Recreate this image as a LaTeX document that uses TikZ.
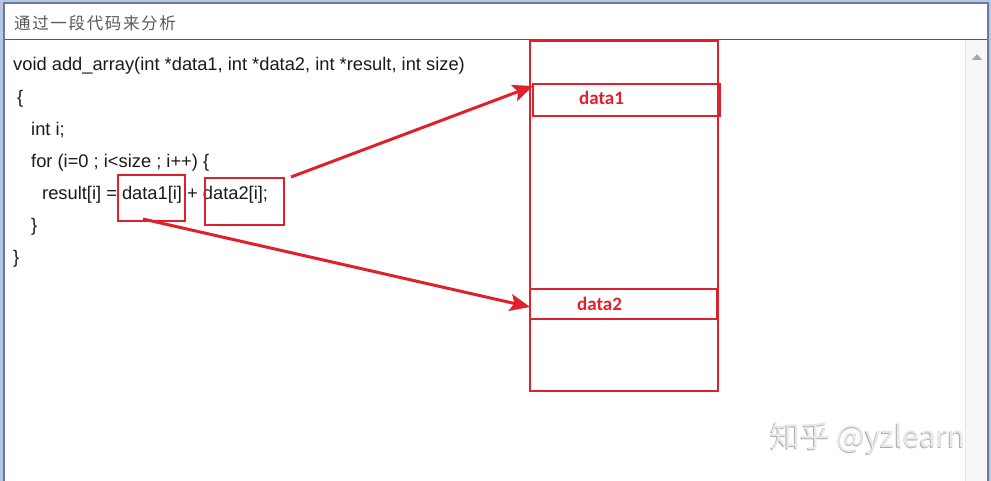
\documentclass[tikz,border=0pt]{standalone}
\usepackage{fontspec}
\setmainfont{Liberation Sans}
\newfontfamily\cjk{Noto Sans CJK SC}
\newfontfamily\cjktitle[LetterSpace=10]{Noto Sans CJK SC}
\newfontfamily\lblfont{Carlito}
\usetikzlibrary{arrows.meta}
\definecolor{frameblue}{HTML}{B6C6E6}
\definecolor{framedark}{HTML}{6B7B9E}
\definecolor{myred}{HTML}{E0202C}
\definecolor{titlegrey}{HTML}{5A5A5A}
\definecolor{codeblack}{HTML}{1A1A1A}
\tikzset{
  redbox/.style={draw=myred, line width=2.5pt, inner sep=0pt},
  codeline/.style={anchor=base west, inner sep=0pt, text=codeblack, font=\fontsize{18.3}{18.3}\selectfont},
  cellname/.style={inner sep=0pt, text=myred, font=\lblfont\bfseries\fontsize{19}{19}\selectfont},
  redarrow/.style={draw=myred, line width=3pt, -{Stealth[length=20pt,width=17pt,inset=4pt]}},
  wmark/.style={anchor=base west, inner sep=0pt, font=\cjk\fontsize{30}{30}\selectfont},
}
\begin{document}
\begin{tikzpicture}[x=1pt,y=-1pt]
\useasboundingbox (0,0) rectangle (991,481);
\clip (0,0) rectangle (991,481);
% window frame
\fill[frameblue] (0,0) rectangle (991,481);
\draw[framedark, line width=2pt, fill=white] (4,3) rectangle (988,490);
% scrollbar
\fill[black!3] (965,40) rectangle (987,481);
\draw[black!10, line width=1pt] (965,40) -- (965,481);
\fill[black!35] (972,60) -- (982,60) -- (977,54) -- cycle;
% header
\draw[titlegrey, line width=1.5pt] (5,39.5) -- (987,39.5);
\node[anchor=base west, inner sep=0pt, text=titlegrey, font=\cjktitle\fontsize{16.5}{16.5}\selectfont] (title) at (14,30) {通过一段代码来分析};
% code
\node[codeline] (l1) at (13,71) {void add\_array(int *data1, int *data2, int *result, int size)};
\node[codeline] (l2) at (17,103.5) {\{};
\node[codeline] (l3) at (31,135.5) {int i;};
\node[codeline] (l4) at (31,168) {for (i=0 ; i<size ; i++) \{};
\node[codeline] (l5) at (42,200) {result[i] = data1[i] + data2[i];};
\node[codeline] (l6) at (31,232) {\}};
\node[codeline] (l7) at (13,264) {\}};
% red boxes on code
\node[redbox, minimum width=67pt, minimum height=46pt] (d1i) at (151.5,198) {};
\node[redbox, minimum width=79pt, minimum height=47pt] (d2i) at (244.5,201.5) {};
% memory
\node[redbox, minimum width=188pt, minimum height=350pt] (mem) at (624,216) {};
\node[redbox, minimum width=187pt, minimum height=32pt] (c1) at (626.5,100) {};
\node[redbox, minimum width=187pt, minimum height=30pt] (c2) at (623.5,304) {};
\node[cellname] (c1lbl) at (601.5,98) {data1};
\node[cellname] (c2lbl) at (599.5,304) {data2};
% arrows
\coordinate (a1s) at (291,177);
\coordinate (a1e) at (533,86);
\coordinate (a2s) at (143,219);
\coordinate (a2e) at (530,307);
\draw[redarrow] (a1s) -- (a1e);
\draw[redarrow] (a2s) -- (a2e);
% watermark
\node[wmark, text=black!32] (wms) at (769.3,448.3) {知乎 @yzlearn};
\node[wmark, text=black!9] (wm) at (770,447.5) {知乎 @yzlearn};
\end{tikzpicture}
\end{document}
